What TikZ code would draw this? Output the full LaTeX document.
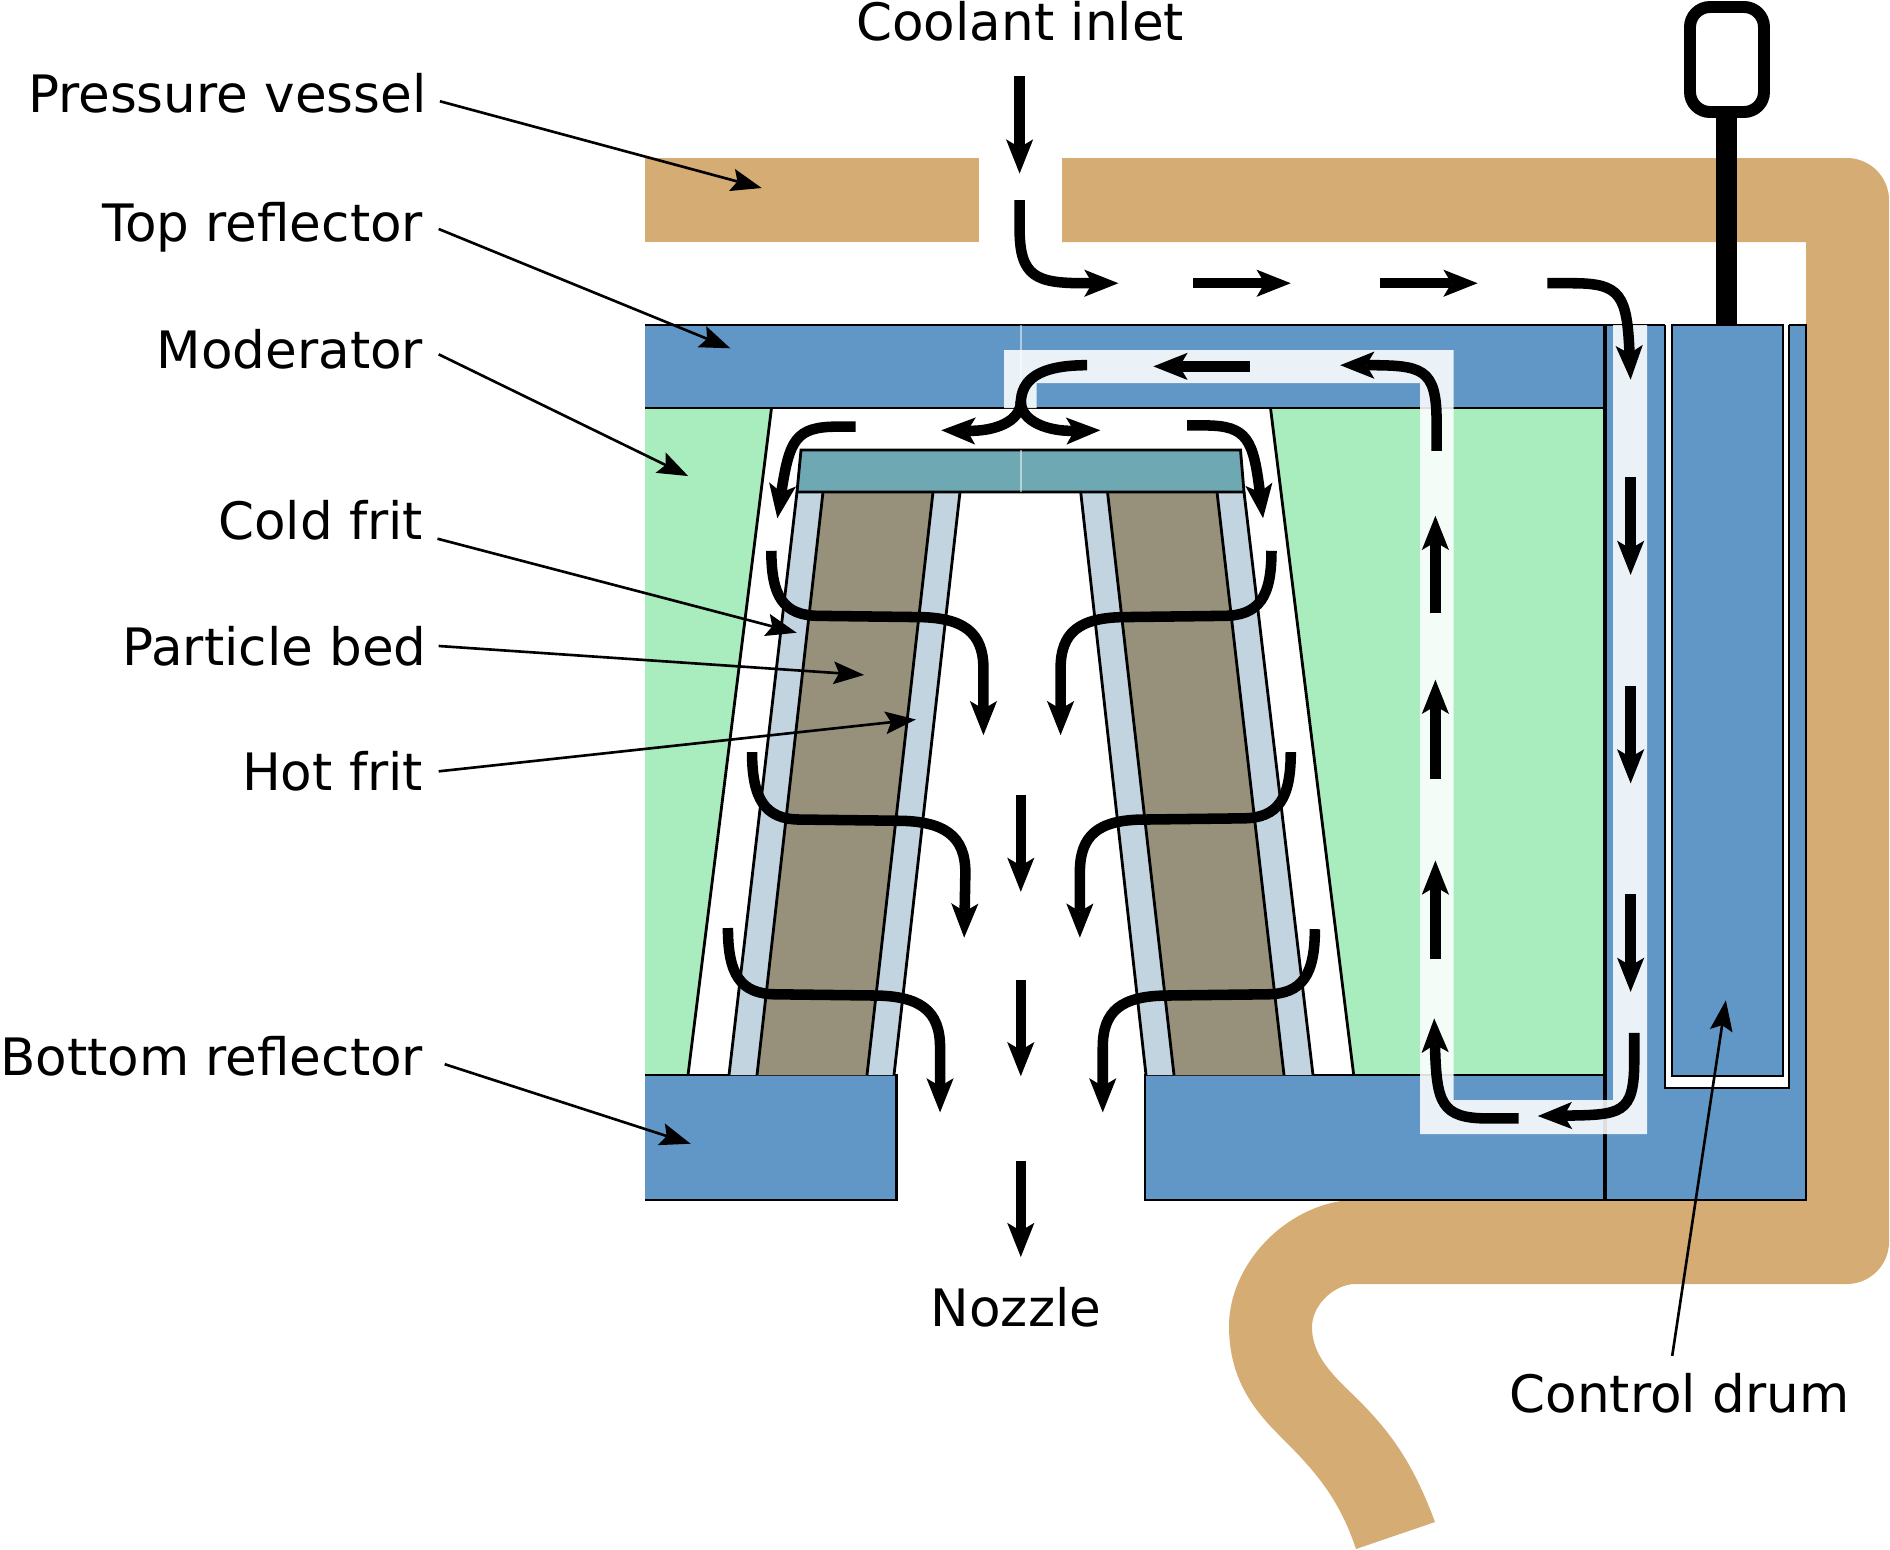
\documentclass[tikz,border=0pt]{standalone}
\usepackage{fontspec}
\setmainfont{DejaVu Sans}
\usetikzlibrary{arrows.meta}
\definecolor{vessel}{HTML}{D4AC74}
\definecolor{reflector}{HTML}{6197C6}
\definecolor{moderator}{HTML}{A9ECBD}
\definecolor{frit}{HTML}{C1D4DF}
\definecolor{bed}{HTML}{97917C}
\definecolor{fritcap}{HTML}{6DA8B3}
\tikzset{
  px/.style={x=0.02cm,y=-0.02cm},
  disp/.style={x=0.024108cm,y=-0.024108cm},
  edge/.style={line width=1.6pt,draw=black},
  heavy/.style={line width=2.6pt,draw=black},
  seam/.style={line width=0.6pt,draw=white,opacity=.5},
  channel/.style={fill=white,fill opacity=.87,draw=none},
  flow/.style={line width=6pt,draw=black,-{Stealth[length=19.5pt,width=15.5pt,inset=4.6pt,line width=0pt]}},
  flowline/.style={line width=6pt,draw=black},
  leader/.style={line width=1.5pt,draw=black,-{Stealth[length=17.5pt,width=13pt,inset=3.2pt,line width=0pt]}},
  lbl/.style={inner sep=0pt,outer sep=0pt,font=\fontsize{29.35}{35}\selectfont},
}
\begin{document}
\begin{tikzpicture}[px]
\useasboundingbox (0,0) rectangle (1890,1549);
% pressure vessel
\fill[vessel] (645,158) rectangle (979,242);
\fill[vessel] (1062,158) -- (1847,158) .. controls (1870,158) and (1889,177) .. (1889,200)
  -- (1889,1242) .. controls (1889,1265) and (1870,1284) .. (1847,1284)
  -- (1353,1284) .. controls (1332,1286) and (1312,1306) .. (1312,1327)
  .. controls (1312,1350) and (1325,1367) .. (1345,1387)
  .. controls (1385,1425) and (1410,1455) .. (1435,1522)
  -- (1356,1549) .. controls (1338,1495) and (1312,1468) .. (1278,1434)
  .. controls (1250,1406) and (1229,1375) .. (1229,1326)
  .. controls (1229,1265) and (1285,1205) .. (1350,1200)
  -- (1806,1200) -- (1806,242) -- (1062,242) -- cycle;
% moderator
\fill[moderator] (645,408) -- (771.5,408) -- (688,1075) -- (645,1075) -- cycle;
\fill[moderator] (1270.5,408) -- (1605,408) -- (1605,1075) -- (1353.7,1075) -- cycle;
\draw[edge] (771.5,408) -- (688,1075);
\draw[edge] (1270.5,408) -- (1353.7,1075);
% reflectors
\fill[reflector] (645,325) rectangle (1605,408);
\draw[edge] (645,325) -- (1605,325);
\draw[edge] (645,408) -- (1605,408);
\fill[reflector] (645,1075) rectangle (897,1200);
\draw[edge] (645,1075) -- (896.5,1075) -- (896.5,1200) -- (645,1200);
\fill[reflector] (1145,1075) rectangle (1605,1200);
\draw[edge] (1605,1075) -- (1145,1075) -- (1145,1200) -- (1605,1200);
% control drum housing
\fill[reflector] (1605,325) rectangle (1806,1200);
\draw[edge] (1605,325) -- (1665,325);
\draw[edge] (1789,325) -- (1806,325) -- (1806,1200) -- (1605,1200);
\fill[white] (1665,325) rectangle (1789,1088);
\draw[edge] (1665,325) -- (1665,1088) -- (1789,1088) -- (1789,325);
\fill[reflector] (1672,325) rectangle (1783,1076);
\draw[edge] (1672,325) rectangle (1783,1076);
\draw[heavy] (1605,325) -- (1605,1200);
% fuel element, left
\fill[frit] (797,492) -- (960,492) -- (894,1075) -- (729,1075) -- cycle;
\fill[bed] (823,492) -- (933,492) -- (867,1075) -- (757,1075) -- cycle;
\draw[edge] (797,492) -- (729,1075);
\draw[edge] (823,492) -- (757,1075);
\draw[edge] (933,492) -- (867,1075);
\draw[edge] (960,492) -- (894,1075);
% fuel element, right
\fill[frit] (1080.7,492) -- (1244,492) -- (1313,1075) -- (1146,1075) -- cycle;
\fill[bed] (1107.5,492) -- (1217,492) -- (1284,1075) -- (1174,1075) -- cycle;
\draw[edge] (1080.7,492) -- (1146,1075);
\draw[edge] (1107.5,492) -- (1174,1075);
\draw[edge] (1217,492) -- (1284,1075);
\draw[edge] (1244,492) -- (1313,1075);
% cap
\fill[fritcap] (801,450) -- (1240.5,450) -- (1244,492) -- (797,492) -- cycle;
\draw[edge] (801,450) -- (1240.5,450) -- (1244,492) -- (797,492) -- cycle;
\draw[seam] (1021,325) -- (1021,408);
\draw[seam] (1021,450) -- (1021,492);
% coolant channels
\fill[channel] (1004,350) -- (1453.5,350) -- (1453.5,1100) -- (1613,1100) -- (1613,325)
  -- (1647,325) -- (1647,1134) -- (1420,1134) -- (1420,383) -- (1036.5,383)
  -- (1036.5,408) -- (1004,408) -- cycle;
% control rod handle
\draw[line width=6.8pt,rounded corners=0.4cm] (1690,7) rectangle (1764,112);
\fill[black] (1716,112) rectangle (1737,325);
\begin{scope}[disp]
% flow
\draw[flow] (846,63) -- (846,144);
\draw[flow] (846,166) -- (846,190) .. controls (846,230) and (860,235) .. (900,235) -- (928,235);
\draw[flow] (990,235) -- (1071,235);
\draw[flow] (1145,235) -- (1226,235);
\draw[flow] (1284,235) -- (1305,235) .. controls (1345,235) and (1350,245) .. (1353,315);
\draw[flow] (1353,396) -- (1353,477);
\draw[flow] (1353,569) -- (1353,650);
\draw[flow] (1353,742) -- (1353,823);
\draw[flow] (1356,857) -- (1356,880) .. controls (1356,925) and (1345,925) .. (1276,926);
\draw[flow] (1260,928) -- (1235,928) .. controls (1195,928) and (1192,915) .. (1190,845);
\draw[flow] (1191,796) -- (1191,714);
\draw[flow] (1191,646) -- (1191,564);
\draw[flow] (1191,509) -- (1191,428);
\draw[flow] (1192,374) -- (1192,350) .. controls (1192,305) and (1180,303) .. (1112,303);
\draw[flow] (1037,304) -- (957,304);
\draw[flowline] (902,303) .. controls (862,303) and (847,315) .. (847,335);
\draw[flow] (847,333) .. controls (847,350) and (825,358) .. (781,357);
\draw[flow] (847,333) .. controls (847,350) and (870,358) .. (913,357);
\draw[flow] (710,354) -- (695,354) .. controls (660,354) and (655,365) .. (645,430);
\draw[flow] (985,353) -- (1000,353) .. controls (1035,353) and (1040,365) .. (1048,430);
\draw[flow] (640,457) .. controls (640,495) and (650,511) .. (680,511) -- (760,512) .. controls (800,512) and (816,525) .. (816,555) -- (816,610);
\draw[flow] (624,624) .. controls (624,662) and (634,680) .. (664,680) -- (744,681) .. controls (784,681) and (801,694) .. (801,724) -- (800,778);
\draw[flow] (604,770) .. controls (604,808) and (614,825) .. (644,825) -- (724,826) .. controls (764,826) and (780,839) .. (780,869) -- (780,923);
\draw[flow] (1055,457) .. controls (1055,495) and (1045,511) .. (1015,511) -- (935,512) .. controls (895,512) and (880,525) .. (880,555) -- (880,610);
\draw[flow] (1071,624) .. controls (1071,662) and (1061,679) .. (1031,679) -- (950,680) .. controls (910,680) and (896,694) .. (896,724) -- (896,778);
\draw[flow] (1091,771) .. controls (1091,808) and (1081,825) .. (1051,825) -- (970,826) .. controls (930,826) and (915,839) .. (915,869) -- (915,923);
\draw[flow] (847,660) -- (847,740);
\draw[flow] (847,813) -- (847,893);
\draw[flow] (847,963) -- (847,1043);
% labels
\node[lbl,anchor=base] (lCI) at (846.5,34) {Coolant inlet};
\node[lbl,anchor=base east] (lPV) at (354,93) {Pressure vessel};
\node[lbl,anchor=base east] (lTR) at (351,200) {Top reflector};
\node[lbl,anchor=base east] (lMO) at (351,306) {Moderator};
\node[lbl,anchor=base east] (lCF) at (351,448) {Cold frit};
\node[lbl,anchor=base east] (lPB) at (354,552) {Particle bed};
\node[lbl,anchor=base east] (lHF) at (351,656) {Hot frit};
\node[lbl,anchor=base east] (lBR) at (351,892) {Bottom reflector};
\node[lbl,anchor=base] (lNO) at (843,1101) {Nozzle};
\node[lbl,anchor=base] (lCD) at (1393.5,1172) {Control drum};
% leader targets
\coordinate (tPV) at (632,156);
\coordinate (tTR) at (606,289);
\coordinate (tMO) at (571,395);
\coordinate (tCF) at (661,525);
\coordinate (tPB) at (717,560);
\coordinate (tHF) at (760,597);
\coordinate (tBR) at (573,949);
\coordinate (tCD) at (1432,830);
\draw[leader] ([shift={(11,-9)}]lPV.base east) -- (tPV);
\draw[leader] ([shift={(13,-10)}]lTR.base east) -- (tTR);
\draw[leader] ([shift={(13,-12)}]lMO.base east) -- (tMO);
\draw[leader] ([shift={(12,-1)}]lCF.base east) -- (tCF);
\draw[leader] ([shift={(10,-16)}]lPB.base east) -- (tPB);
\draw[leader] ([shift={(13,-16)}]lHF.base east) -- (tHF);
\draw[leader] ([shift={(18,-9)}]lBR.base east) -- (tBR);
\draw[leader] ([shift={(-6,-47)}]lCD.base) -- (tCD);
\end{scope}
\end{tikzpicture}
\end{document}
